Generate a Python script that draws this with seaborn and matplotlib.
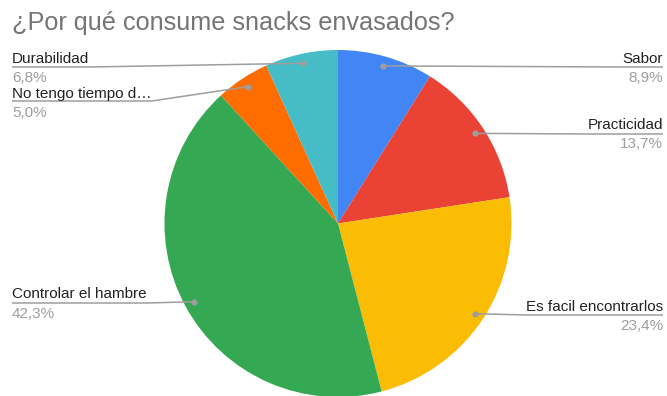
import numpy as np
import matplotlib
matplotlib.use("Agg")
import matplotlib.pyplot as plt
import seaborn as sns

# Survey answers, in clockwise order starting from 12 o'clock
categories = ["Sabor", "Practicidad", "Es facil encontrarlos",
              "Controlar el hambre", "No tengo tiempo d…", "Durabilidad"]
shares = [8.9, 13.7, 23.4, 42.3, 5.0, 6.8]
colors = ["#4285F4", "#EA4335", "#FBBC04", "#34A853", "#FF6D01", "#46BDC6"]
title = "¿Por qué consume snacks envasados?"

sns.set_theme(style="white")
plt.rcParams["font.family"] = ["Liberation Sans", "DejaVu Sans"]

W, H = 667, 396
fig = plt.figure(figsize=(W / 100, H / 100), dpi=100)
ax = fig.add_axes([0, 0, 1, 1])

cx, cy, R = 338, 223.5, 173.5
# y axis runs downward, so start at -90 and sweep "counterclockwise" in data
# space, which reads as clockwise from the top on the page
ax.pie(shares, colors=colors, startangle=-90, counterclock=True,
       center=(cx, cy), radius=R, wedgeprops=dict(linewidth=0))
ax.set_xlim(0, W)
ax.set_ylim(H, 0)
ax.set_aspect("equal")
ax.axis("off")

fig.text(12 / W, 1 - 30 / H, title, fontsize=18.2, color="#757575",
         ha="left", va="baseline")

# label placement: (side, text baseline, underline y, percent baseline)
layout = {
    "Sabor": ("right", 63, 67, 82),
    "Practicidad": ("right", 129, 134, 148),
    "Es facil encontrarlos": ("right", 311, 315, 330),
    "Controlar el hambre": ("left", 298, 303, 318),
    "No tengo tiempo d…": ("left", 98, 101, 117),
    "Durabilidad": ("left", 63, 67, 82),
}

renderer = fig.canvas.get_renderer()
total = sum(shares)
cum = 0.0
line_col = "#9e9e9e"
for name, val in zip(categories, shares):
    mid = (cum + val / 2) / total * 2 * np.pi
    cum += val
    dx = cx + 0.945 * R * np.sin(mid)
    dy = cy - 0.945 * R * np.cos(mid)
    side, tb, uy, pb = layout[name]
    tx, ha = (663, "right") if side == "right" else (12, "left")
    t = ax.text(tx, tb, name, fontsize=11, color="#222222", ha=ha,
                va="baseline")
    pct = f"{val:.1f}".replace(".", ",") + "%"
    ax.text(tx, pb, pct, fontsize=11, color="#9e9e9e", ha=ha, va="baseline")
    width = t.get_window_extent(renderer).width
    knee = tx - width if side == "right" else tx + width
    ax.plot([dx, knee, tx], [dy, uy, uy], color=line_col, lw=1.1,
            solid_capstyle="butt")
    ax.plot([dx], [dy], "o", color=line_col, ms=4.5, mec="none")

fig.savefig("out.png", dpi=100)
